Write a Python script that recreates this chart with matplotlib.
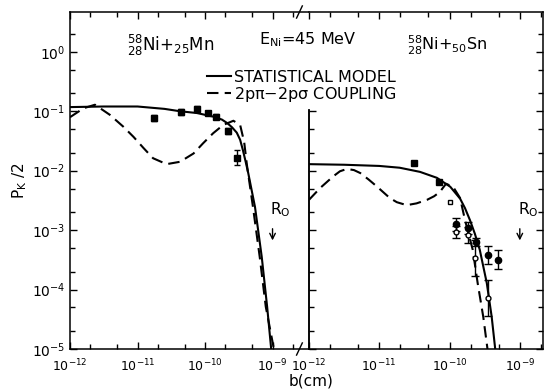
import numpy as np
import matplotlib
matplotlib.use("Agg")
import matplotlib.pyplot as plt
from matplotlib.ticker import LogLocator, FixedLocator, NullFormatter

plt.rcParams['font.family'] = ['DejaVu Sans']
plt.rcParams['mathtext.default'] = 'regular'

# ---- Ni + Mn (left panel), log10 values
mn_stat_logb = [-12.0, -11.5, -11.0, -10.6, -10.37, -10.12, -9.88, -9.75, -9.67, -9.60, -9.53, -9.48,
                -9.44, -9.40, -9.36, -9.26, -9.16, -9.08, -9.02]
mn_stat_logp = [-0.93, -0.92, -0.92, -0.96, -1.00, -1.03, -1.09, -1.14, -1.20, -1.27, -1.36, -1.48,
                -1.65, -1.84, -2.04, -2.61, -3.45, -4.29, -5.0]
mn_coup_logb = [-12.0, -11.80, -11.63, -11.41, -11.21, -11.06, -10.91, -10.77, -10.57, -10.37, -10.17,
                -10.03, -9.88, -9.73, -9.58, -9.48, -9.42, -9.38, -9.29, -9.19, -9.10, -8.98]
mn_coup_logp = [-1.10, -0.95, -0.89, -1.06, -1.26, -1.43, -1.62, -1.79, -1.89, -1.85, -1.71,
                -1.54, -1.37, -1.23, -1.16, -1.23, -1.52, -1.90, -2.61, -3.45, -4.29, -5.0]
mn_data_logb = [-10.76, -10.36, -10.12, -9.96, -9.84, -9.66, -9.53]
mn_data_logp = [-1.11, -1.01, -0.96, -1.03, -1.09, -1.33, -1.78]
mn_data_err = [0.05, 0.05, 0.05, 0.04, 0.04, 0.05, 0.12]

# ---- Ni + Sn (right panel)
sn_stat_logb = [-12.0, -11.5, -11.0, -10.71, -10.42, -10.18, -9.99, -9.85, -9.78, -9.71, -9.64, -9.57,
                -9.47, -9.40, -9.35]
sn_stat_logp = [-1.89, -1.90, -1.92, -1.95, -2.02, -2.12, -2.27, -2.47, -2.63, -2.83, -3.06, -3.33,
                -3.89, -4.46, -5.0]
sn_coup_logb = [-12.0, -11.84, -11.66, -11.56, -11.46, -11.36, -11.27, -11.15, -11.03, -10.85, -10.75,
                -10.61, -10.47, -10.32, -10.22, -10.14, -10.05, -9.95, -9.85, -9.78, -9.67, -9.60,
                -9.52, -9.46]
sn_coup_logp = [-2.49, -2.29, -2.10, -2.01, -1.97, -1.99, -2.04, -2.15, -2.27, -2.46, -2.53,
                -2.58, -2.55, -2.49, -2.43, -2.36, -2.22, -2.27, -2.46, -2.83, -3.33, -3.89,
                -4.46, -5.0]
sn_sq_logb = [-10.51, -10.15]
sn_sq_logp = [-1.87, -2.19]
sn_opensq_logb = [-9.99]
sn_opensq_logp = [-2.53]
sn_fill_logb = [-9.91, -9.74, -9.62, -9.45, -9.31]
sn_fill_logp = [-2.90, -2.96, -3.20, -3.42, -3.50]
sn_fill_err = [0.11, 0.10, 0.06, 0.15, 0.16]
sn_open_logb = [-9.91, -9.74, -9.64, -9.45]
sn_open_logp = [-3.03, -3.08, -3.47, -4.14]
sn_open_err = [0.10, 0.13, 0.30, 0.30]

R0_logb = -9.0

W, H = 545, 389
fig = plt.figure(figsize=(W / 100, H / 100), dpi=100)
ax1 = fig.add_axes([70 / W, 1 - 349 / H, 239 / W, 337 / H])
ax2 = fig.add_axes([309 / W, 1 - 349 / H, 234 / W, 337 / H])

p = lambda v: 10 ** np.asarray(v)
dash = (0, (5.5, 3))
lw = 1.5

l_stat, = ax1.plot(p(mn_stat_logb), p(mn_stat_logp), 'k-', lw=lw)
l_coup, = ax1.plot(p(mn_coup_logb), p(mn_coup_logp), 'k', ls=dash, lw=lw)
ml = np.array(mn_data_logp)
ax1.errorbar(p(mn_data_logb), p(ml), yerr=[p(ml) - p(ml - mn_data_err), p(ml + mn_data_err) - p(ml)],
             fmt='s', color='k', ms=4.5, capsize=2, elinewidth=1)

ax2.plot(p(sn_stat_logb), p(sn_stat_logp), 'k-', lw=lw)
ax2.plot(p(sn_coup_logb), p(sn_coup_logp), 'k', ls=dash, lw=lw)
ax2.plot(p(sn_sq_logb), p(sn_sq_logp), 's', color='k', ms=4.5)
ax2.plot(p(sn_opensq_logb), p(sn_opensq_logp), 's', mfc='white', mec='k', ms=3.5)
fl = np.array(sn_fill_logp)
ax2.errorbar(p(sn_fill_logb), p(fl), yerr=[p(fl) - p(fl - sn_fill_err), p(fl + sn_fill_err) - p(fl)],
             fmt='o', color='k', ms=4.5, capsize=3, elinewidth=1)
ol = np.array(sn_open_logp)
ax2.errorbar(p(sn_open_logb), p(ol), yerr=[p(ol) - p(ol - sn_open_err), p(ol + sn_open_err) - p(ol)],
             fmt='o', color='k', mfc='white', ms=3.5, capsize=3, elinewidth=1)

for ax, xmax in ((ax1, 10 ** -8.46), (ax2, 10 ** -8.67)):
    ax.set_xscale('log')
    ax.set_yscale('log')
    ax.set_xlim(1e-12, xmax)
    ax.set_ylim(1e-5, 10 ** 0.67)
    ax.xaxis.set_major_locator(LogLocator(base=10))
    ax.xaxis.set_minor_locator(LogLocator(base=10, subs=(2, 5)))
    ax.yaxis.set_major_locator(LogLocator(base=10))
    ax.yaxis.set_minor_locator(LogLocator(base=10, subs=(2, 5)))
    ax.xaxis.set_minor_formatter(NullFormatter())
    ax.yaxis.set_minor_formatter(NullFormatter())
    ax.tick_params(which='both', direction='in', top=True, labelsize=9, width=1)
    ax.tick_params(axis='x', pad=6)
    ax.tick_params(which='major', length=5)
    ax.tick_params(which='minor', length=3.5)
    for s in ax.spines.values():
        s.set_linewidth(1.1)
    ax.annotate('', xy=(10 ** R0_logb, 10 ** -3.22), xytext=(10 ** R0_logb, 10 ** -2.93),
                arrowprops=dict(arrowstyle='->', lw=1, color='k'))
    ax.text(10 ** (R0_logb + 0.12), 10 ** -2.82, 'R$_O$', ha='center', va='bottom', fontsize=11)

ax1.spines['right'].set_visible(False)
ax1.tick_params(which='both', right=False)
ax1.tick_params(axis='y', labelsize=10)
ax1.set_ylabel('P$_K$ /2', fontsize=11, labelpad=2)

# right panel: y ticks on the right, short left spine
ax2.tick_params(which='both', left=False, right=True, labelleft=False)
ax2.spines['left'].set_bounds(1e-5, 0.105)
sec = ax2.secondary_yaxis('left')
sec.yaxis.set_major_locator(FixedLocator([1e-5, 1e-4, 1e-3, 1e-2, 1e-1]))
sec.yaxis.set_minor_locator(FixedLocator([m * d for d in (1e-5, 1e-4, 1e-3, 1e-2) for m in (2, 5)]))
sec.yaxis.set_major_formatter(NullFormatter())
sec.yaxis.set_minor_formatter(NullFormatter())
sec.tick_params(which='both', direction='in', width=1)
sec.tick_params(which='major', length=5)
sec.tick_params(which='minor', length=3.5)
sec.spines['left'].set_bounds(1e-5, 0.105)
sec.spines['left'].set_linewidth(1.1)

# axis break marks
for y in (0, 1):
    ax1.plot([0.948, 0.972], [y - 0.018, y + 0.018], transform=ax1.transAxes, color='k', lw=1, clip_on=False)

fig.text(311 / W, 1 - 381 / H, 'b(cm)', ha='center', va='center', fontsize=11)

fig.text(127 / W, 1 - 45 / H, r'$^{58}_{28}$Ni+$_{25}$Mn', ha='left', va='center', fontsize=12)
fig.text(259 / W, 1 - 40 / H, r'E$_{Ni}$=45 MeV', ha='left', va='center', fontsize=11.5)
fig.text(407 / W, 1 - 45 / H, r'$^{58}_{28}$Ni+$_{50}$Sn', ha='left', va='center', fontsize=11.5)

fig.legend([l_stat, l_coup], ['STATISTICAL MODEL', r'2p$\pi$$-$2p$\sigma$ COUPLING'],
           loc='upper left', bbox_to_anchor=(199 / W, 1 - 62 / H), frameon=False,
           fontsize=11.5, handlelength=1.5, handletextpad=0.2, labelspacing=0.0, borderpad=0)

fig.savefig('out.png', dpi=100)
